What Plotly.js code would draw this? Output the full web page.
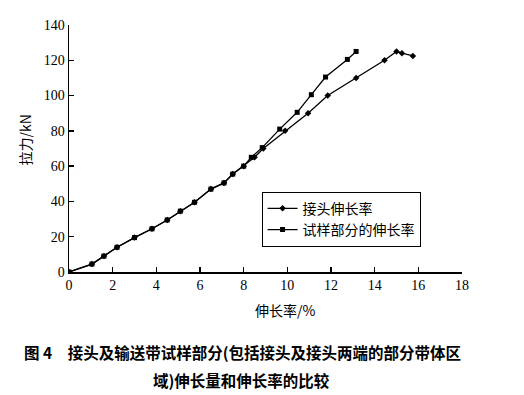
<!DOCTYPE html>
<html>
<head>
<meta charset="utf-8">
<script src="https://cdn.plot.ly/plotly-3.0.1.min.js"></script>
<style>html,body{margin:0;padding:0;background:#fff;}#chart{width:524px;height:395px;}</style>
</head>
<body>
<div id="chart"></div>
<script>
// 接头伸长率
const jointX = [0, 1.05, 1.6, 2.2, 3.0, 3.8, 4.5, 5.1, 5.75, 6.5, 7.1, 7.5, 8.0, 8.5, 8.9, 9.9, 10.95, 11.85, 13.15, 14.45, 15.0, 15.25, 15.75];
const jointY = [0, 4.5, 9, 14, 19.5, 24.5, 29.5, 34.5, 39.5, 47, 50.5, 55.5, 60, 65, 70, 80, 90, 100, 110, 120, 125, 124, 122.5];
// 试样部分的伸长率
const specX = [0, 1.05, 1.6, 2.2, 3.0, 3.8, 4.5, 5.1, 5.75, 6.5, 7.1, 7.5, 8.0, 8.35, 8.85, 9.65, 10.45, 11.1, 11.75, 12.75, 13.15];
const specY = [0, 4.5, 9, 14, 19.5, 24.5, 29.5, 34.5, 39.5, 47, 50.5, 55.5, 60, 65, 70.5, 81, 90.5, 100.5, 110.5, 120.5, 125];
const seriesNames = ['接头伸长率', '试样部分的伸长率'];
const xTicks = [0, 2, 4, 6, 8, 10, 12, 14, 16, 18];
const yTicks = [0, 20, 40, 60, 80, 100, 120, 140];

const serif = 'Liberation Serif, Times New Roman, serif';
const cjk = 'Noto Sans CJK SC, sans-serif';

const traces = [
  {x: jointX, y: jointY, name: seriesNames[0], mode: 'lines+markers',
   line: {color: '#000', width: 1.3}, marker: {symbol: 'diamond', size: 5, color: '#000'}},
  {x: specX, y: specY, name: seriesNames[1], mode: 'lines+markers',
   line: {color: '#000', width: 1.3}, marker: {symbol: 'square', size: 5, color: '#000'}}
];

const axisCommon = {
  showline: true, linecolor: '#000', linewidth: 1.5, mirror: false,
  ticks: 'inside', ticklen: 5, tickwidth: 1.5, tickcolor: '#000',
  showgrid: false, zeroline: false,
  tickfont: {family: serif, size: 14, color: '#000'}
};

const layout = {
  width: 524, height: 395,
  margin: {l: 69, r: 62, t: 25, b: 123},
  paper_bgcolor: '#fff', plot_bgcolor: '#fff',
  showlegend: true,
  legend: {x: 0.49, y: 0.325, xanchor: 'left', yanchor: 'top',
    bordercolor: '#000', borderwidth: 1, bgcolor: '#fff',
    font: {family: cjk, size: 14, color: '#000'}, tracegroupgap: 0, itemwidth: 30},
  xaxis: Object.assign({}, axisCommon, {range: [0, 18], tickvals: xTicks, ticktext: xTicks.map(String)}),
  yaxis: Object.assign({}, axisCommon, {range: [0, 140], tickvals: yTicks, ticktext: yTicks.map(String)}),
  annotations: [
    {text: '伸长率/%', xref: 'paper', yref: 'paper', x: 0.55, y: -0.155, xanchor: 'center', yanchor: 'middle',
     showarrow: false, font: {family: cjk, size: 14, color: '#000'}},
    {text: '拉力/kN', xref: 'paper', yref: 'paper', x: -0.113, y: 0.535, xanchor: 'center', yanchor: 'middle',
     textangle: -90, showarrow: false, font: {family: cjk, size: 14, color: '#000'}},
    {text: '<b>图 4　接头及输送带试样部分(包括接头及接头两端的部分带体区</b>', xref: 'paper', yref: 'paper',
     x: -0.12, y: -0.324, xanchor: 'left', yanchor: 'middle', showarrow: false,
     font: {family: cjk, size: 15.5, color: '#000'}},
    {text: '<b>域)伸长量和伸长率的比较</b>', xref: 'paper', yref: 'paper',
     x: 0.438, y: -0.437, xanchor: 'center', yanchor: 'middle', showarrow: false,
     font: {family: cjk, size: 15.5, color: '#000'}}
  ]
};

Plotly.newPlot('chart', traces, layout, {displayModeBar: false, staticPlot: true});
</script>
</body>
</html>
